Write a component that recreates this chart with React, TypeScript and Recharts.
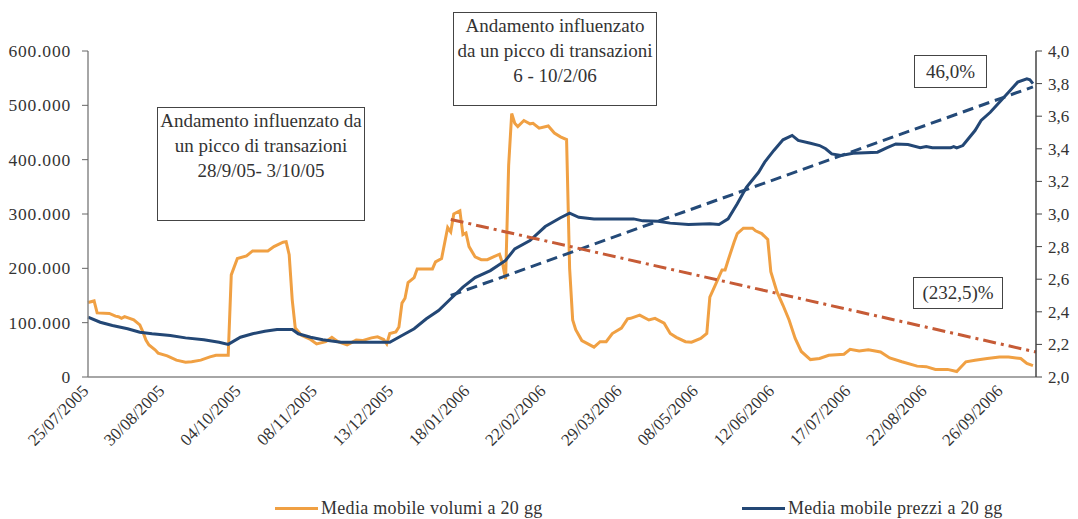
import React from 'react';
import { LineChart, Line, XAxis, YAxis } from 'recharts';

const FONT = '"Liberation Serif", "Times New Roman", serif';
const TEXT = '#333333';

// x axis: trading-day index, ticks every 25 sessions
const xTickIdx = [0, 25, 50, 75, 100, 125, 150, 175, 200, 225, 250, 275, 300];
const xTickLabels = [
  '25/07/2005', '30/08/2005', '04/10/2005', '08/11/2005', '13/12/2005', '18/01/2006',
  '22/02/2006', '29/03/2006', '08/05/2006', '12/06/2006', '17/07/2006', '22/08/2006', '26/09/2006',
];

// Media mobile volumi a 20 gg (thousands)
const volIdx = [0, 2, 3, 7, 9, 10, 11, 12, 15, 17, 18, 19, 20, 22, 23, 26, 29, 32, 34, 37, 40, 42, 46, 47, 49, 52, 54, 59, 61, 64, 65, 66, 67, 68, 70, 73, 75, 78, 80, 82, 85, 88, 90, 93, 95, 97, 98, 99, 101, 102, 103, 104, 105, 107, 108, 113, 114, 116, 118, 119, 120, 122, 123, 124, 125, 127, 129, 131, 133, 135, 136, 137, 138, 139, 140, 141, 143, 145, 146, 148, 151, 153, 155, 157, 158, 159, 160, 162, 166, 168, 170, 172, 175, 177, 178, 181, 184, 186, 189, 191, 193, 196, 198, 201, 203, 204, 206, 208, 209, 210, 212, 213, 215, 218, 219, 221, 223, 224, 226, 228, 230, 232, 234, 237, 240, 243, 248, 250, 253, 256, 260, 263, 267, 272, 275, 278, 282, 285, 286, 288, 291, 295, 299, 302, 306, 308, 310];
const volVal = [137, 140, 118, 117, 112, 111, 108, 111, 105, 96, 83, 68, 59, 50, 44, 39, 31, 27, 28, 31, 37, 40, 40, 188, 218, 223, 232, 232, 240, 248, 249, 225, 142, 90, 77, 69, 61, 65, 73, 65, 59, 68, 67, 72, 74, 69, 61, 80, 83, 92, 136, 145, 174, 183, 199, 199, 212, 218, 275, 267, 300, 306, 262, 265, 240, 221, 216, 216, 221, 226, 209, 180, 390, 485, 467, 461, 472, 466, 467, 458, 462, 449, 442, 437, 200, 105, 87, 67, 55, 65, 65, 80, 90, 107, 108, 114, 105, 108, 99, 80, 73, 65, 64, 71, 80, 147, 172, 197, 197, 215, 249, 264, 274, 274, 269, 264, 253, 194, 157, 132, 105, 71, 47, 32, 34, 40, 42, 51, 48, 50, 46, 35, 28, 20, 19, 14, 14, 10, 16, 28, 31, 34, 37, 37, 34, 25, 21];

// Media mobile prezzi a 20 gg
const priceIdx = [0, 4, 8, 13, 17, 21, 27, 32, 38, 43, 46, 50, 54, 58, 62, 67, 69, 73, 77, 83, 90, 99, 103, 107, 111, 115, 119, 123, 127, 132, 137, 140, 145, 150, 155, 158, 161, 166, 179, 182, 187, 191, 197, 204, 207, 210, 213, 216, 220, 222, 225, 228, 231, 233, 237, 240, 242, 244, 247, 251, 259, 262, 265, 269, 273, 275, 277, 283, 284, 285, 287, 291, 293, 296, 299, 302, 305, 308, 309, 310];
const priceVal = [2.367, 2.336, 2.316, 2.296, 2.275, 2.265, 2.255, 2.24, 2.228, 2.213, 2.2, 2.244, 2.265, 2.281, 2.291, 2.291, 2.265, 2.244, 2.228, 2.213, 2.213, 2.213, 2.255, 2.296, 2.357, 2.408, 2.48, 2.551, 2.61, 2.653, 2.715, 2.786, 2.837, 2.923, 2.977, 3.005, 2.98, 2.97, 2.97, 2.958, 2.956, 2.944, 2.936, 2.94, 2.936, 2.97, 3.063, 3.164, 3.256, 3.318, 3.39, 3.455, 3.482, 3.451, 3.434, 3.42, 3.4, 3.369, 3.359, 3.373, 3.379, 3.406, 3.43, 3.426, 3.406, 3.414, 3.406, 3.406, 3.414, 3.406, 3.42, 3.512, 3.574, 3.624, 3.686, 3.747, 3.809, 3.829, 3.823, 3.8];

// trend lines
const volTrendIdx = [119, 311];
const volTrendVal = [290, 46];
const priceTrendIdx = [119, 310];
const priceTrendVal = [2.5, 3.78];

const leftTicks = [0, 100, 200, 300, 400, 500, 600];
const rightTicks = [2, 2.2, 2.4, 2.6, 2.8, 3, 3.2, 3.4, 3.6, 3.8, 4];

const volData = volIdx.map((i, k) => ({ i, v: volVal[k] }));
const priceData = priceIdx.map((i, k) => ({ i, p: priceVal[k] }));
const volTrend = volTrendIdx.map((i, k) => ({ i, v: volTrendVal[k] }));
const priceTrend = priceTrendIdx.map((i, k) => ({ i, p: priceTrendVal[k] }));

const svgText: React.CSSProperties = { fontFamily: FONT, fontSize: 17, fill: TEXT };
const axisText: React.CSSProperties = { fontFamily: FONT, fontSize: 17.5, fill: TEXT, letterSpacing: 0.8 };

const XTick = (props: any) => {
  const { x, y, payload } = props;
  const pos = xTickIdx.indexOf(payload.value);
  return (
    <g transform={`translate(${x},${y})`}>
      <text x={0} y={0} dx={-4} dy={6} textAnchor="end" transform="rotate(-45)" style={svgText}>
        {pos >= 0 ? xTickLabels[pos] : ''}
      </text>
    </g>
  );
};

const LeftTick = (props: any) => {
  const { x, y, payload } = props;
  const v = payload.value as number;
  return (
    <text x={x} y={y} dx={-3} dy={6} textAnchor="end" style={axisText}>
      {v === 0 ? '0' : `${v}.000`}
    </text>
  );
};

const RightTick = (props: any) => {
  const { x, y, payload } = props;
  const v = payload.value as number;
  return (
    <text x={x} y={y} dx={-1} dy={6} textAnchor="start" style={svgText}>
      {v.toFixed(1).replace('.', ',')}
    </text>
  );
};

const boxStyle: React.CSSProperties = {
  position: 'absolute',
  border: '1px solid #444',
  background: '#fff',
  fontFamily: FONT,
  fontSize: 19,
  color: TEXT,
  textAlign: 'center',
  lineHeight: '25px',
  boxSizing: 'border-box',
  whiteSpace: 'nowrap',
};

const legendText: React.CSSProperties = {
  position: 'absolute',
  fontFamily: FONT,
  fontSize: 18,
  letterSpacing: 0.3,
  color: TEXT,
  lineHeight: '18px',
  whiteSpace: 'nowrap',
};

export default function App() {
  return (
    <div style={{ position: 'relative', width: 1070, height: 511, overflow: 'hidden', background: '#fff' }}>
      <LineChart width={1070} height={470} margin={{ top: 43, right: 0, bottom: 0, left: 0 }}>
        <XAxis
          xAxisId="x"
          type="number"
          dataKey="i"
          domain={[0, 311]}
          ticks={xTickIdx}
          interval={0}
          tick={<XTick />}
          tickLine={false}
          axisLine={{ stroke: '#888', strokeWidth: 1.5 }}
          height={101}
        />
        <YAxis
          yAxisId="left"
          orientation="left"
          domain={[0, 600]}
          ticks={leftTicks}
          width={80}
          tickSize={6}
          tickMargin={8}
          tick={<LeftTick />}
          axisLine={{ stroke: '#888', strokeWidth: 1.5 }}
          tickLine={{ stroke: '#666' }}
        />
        <YAxis
          yAxisId="right"
          orientation="right"
          domain={[2, 4]}
          ticks={rightTicks}
          width={42}
          tickSize={6}
          tickMargin={7}
          tick={<RightTick />}
          axisLine={{ stroke: '#444', strokeWidth: 1.5 }}
          tickLine={{ stroke: '#444' }}
        />
        <Line xAxisId="x" yAxisId="left" data={volData} dataKey="v" type="linear"
          stroke="#F0A043" strokeWidth={3} dot={false} isAnimationActive={false} />
        <Line xAxisId="x" yAxisId="right" data={priceData} dataKey="p" type="linear"
          stroke="#234775" strokeWidth={3} dot={false} isAnimationActive={false} />
        <Line xAxisId="x" yAxisId="right" data={priceTrend} dataKey="p" type="linear"
          stroke="#244A78" strokeWidth={3} strokeDasharray="11 6" dot={false} isAnimationActive={false} />
        <Line xAxisId="x" yAxisId="left" data={volTrend} dataKey="v" type="linear"
          stroke="#C65B36" strokeWidth={3} strokeDasharray="13 5 3 5" dot={false} isAnimationActive={false} />
      </LineChart>

      <div style={{ ...boxStyle, left: 149, top: 99, width: 208, height: 114 }}>
        Andamento influenzato da<br />un picco di transazioni<br />28/9/05- 3/10/05
      </div>
      <div style={{ ...boxStyle, left: 445, top: 4, width: 204, height: 94 }}>
        Andamento influenzato<br />da un picco di transazioni<br />6 - 10/2/06
      </div>
      <div style={{ ...boxStyle, left: 906, top: 47, width: 73, height: 33, lineHeight: '31px' }}>
        46,0%
      </div>
      <div style={{ ...boxStyle, left: 905, top: 269, width: 90, height: 32, lineHeight: '30px' }}>
        (232,5)%
      </div>

      <div style={{ position: 'absolute', left: 267, top: 499, width: 43, height: 3, background: '#F0A043' }} />
      <div style={{ ...legendText, left: 313, top: 491 }}>Media mobile volumi a 20 gg</div>
      <div style={{ position: 'absolute', left: 734, top: 499, width: 43, height: 3, background: '#234775' }} />
      <div style={{ ...legendText, left: 780, top: 491 }}>Media mobile prezzi a 20 gg</div>
    </div>
  );
}
